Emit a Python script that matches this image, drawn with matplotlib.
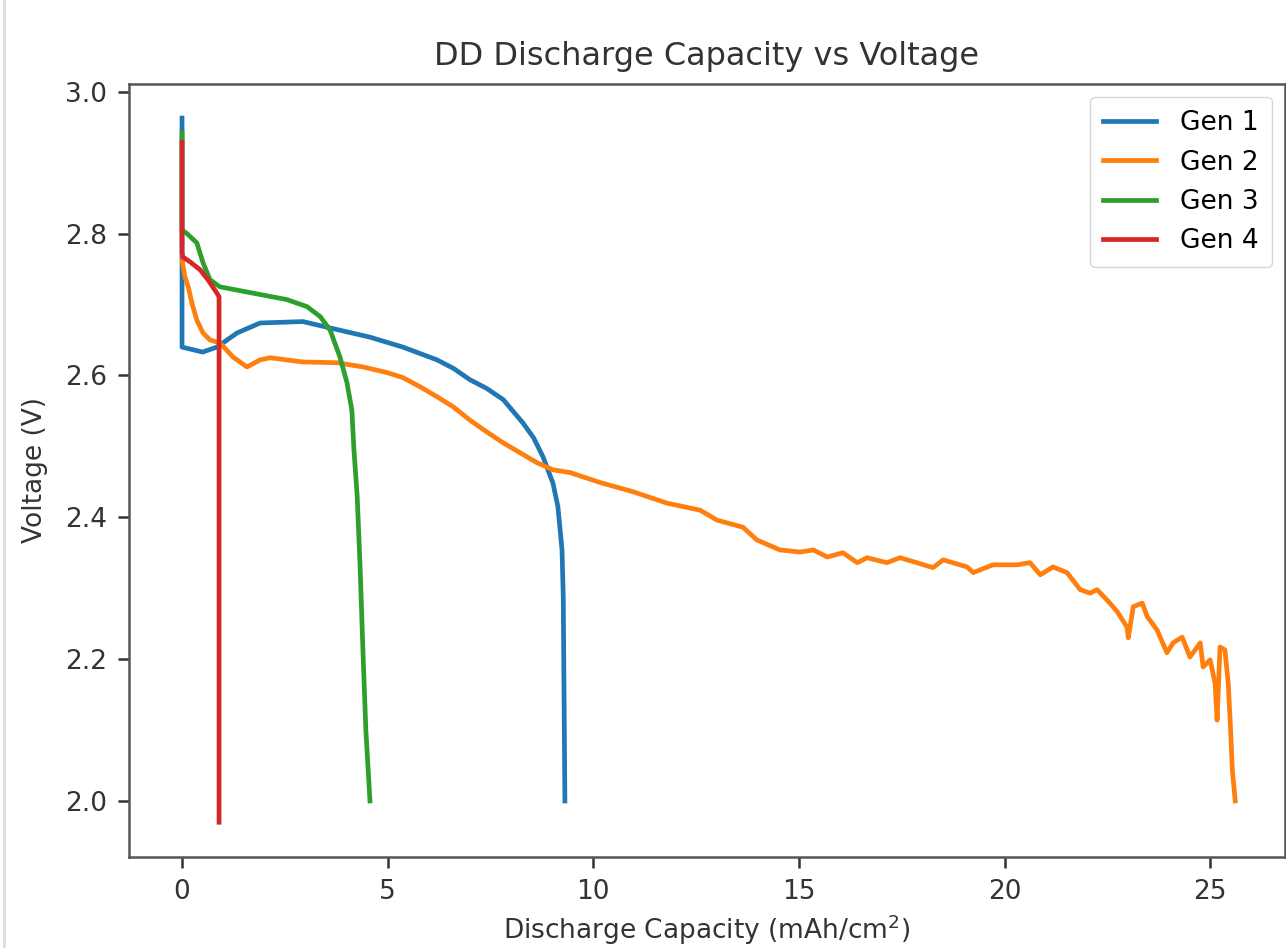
import numpy as np
import matplotlib
matplotlib.use('Agg')
import matplotlib.pyplot as plt
from matplotlib.lines import Line2D

# 放电容量 (mAh/cm^2) 与电压 (V)
gen1_cap = [0, 0, 0.5, 0.85, 1.34, 1.9, 2.94, 3.6, 4.57, 5.37, 6.2, 6.6, 7.0,
            7.4, 7.81, 8.29, 8.55, 8.78, 9.02, 9.14, 9.24, 9.27, 9.31]
gen1_v = [2.963, 2.640, 2.633, 2.640, 2.660, 2.674, 2.676, 2.667, 2.654, 2.640,
          2.622, 2.610, 2.594, 2.582, 2.566, 2.533, 2.512, 2.485, 2.448, 2.415,
          2.354, 2.288, 2.0]

gen2_cap = [0, 0.07, 0.15, 0.24, 0.36, 0.51, 0.68, 0.92, 1.24, 1.58, 1.90, 2.14,
            2.94, 3.77, 4.40, 4.99, 5.37, 5.79, 6.20, 6.59, 7.00, 7.42, 7.81,
            8.22, 8.63, 9.02, 9.44, 10.17, 10.97, 11.79, 12.60, 13.01, 13.64,
            13.98, 14.54, 15.03, 15.35, 15.69, 16.07, 16.42, 16.66, 17.14,
            17.46, 17.87, 18.26, 18.51, 19.09, 19.24, 19.72, 20.31, 20.62,
            20.87, 21.18, 21.52, 21.84, 22.08, 22.25, 22.50, 22.74, 22.98,
            23.01, 23.13, 23.35, 23.47, 23.71, 23.95, 24.10, 24.32, 24.51,
            24.76, 24.83, 25.00, 25.12, 25.17, 25.24, 25.36, 25.44, 25.49,
            25.54, 25.61]
gen2_v = [2.763, 2.739, 2.725, 2.702, 2.678, 2.660, 2.650, 2.646, 2.626, 2.612,
          2.622, 2.625, 2.619, 2.618, 2.612, 2.604, 2.597, 2.584, 2.570, 2.556,
          2.537, 2.520, 2.505, 2.491, 2.477, 2.467, 2.463, 2.449, 2.436, 2.420,
          2.410, 2.396, 2.386, 2.368, 2.354, 2.351, 2.354, 2.344, 2.350, 2.336,
          2.343, 2.336, 2.343, 2.336, 2.329, 2.340, 2.330, 2.322, 2.333, 2.333,
          2.336, 2.319, 2.330, 2.322, 2.298, 2.293, 2.298, 2.283, 2.267, 2.245,
          2.230, 2.274, 2.279, 2.260, 2.241, 2.209, 2.223, 2.231, 2.203, 2.223,
          2.189, 2.199, 2.166, 2.114, 2.217, 2.213, 2.166, 2.110, 2.044, 2.0]

gen3_cap = [0, 0, 0.12, 0.36, 0.51, 0.68, 0.92, 1.73, 2.55, 3.04, 3.36, 3.60,
            3.84, 4.01, 4.13, 4.18, 4.26, 4.33, 4.40, 4.47, 4.57]
gen3_v = [2.942, 2.805, 2.800, 2.787, 2.759, 2.735, 2.725, 2.716, 2.707, 2.697,
          2.683, 2.664, 2.626, 2.590, 2.551, 2.495, 2.429, 2.330, 2.210, 2.100, 2.0]

gen4_cap = [0, 0, 0.02, 0.20, 0.44, 0.63, 0.85, 0.90, 0.90]
gen4_v = [2.929, 2.773, 2.767, 2.760, 2.749, 2.735, 2.716, 2.711, 1.970]

labels = ['Gen 1', 'Gen 2', 'Gen 3', 'Gen 4']

fig = plt.figure(figsize=(12.86, 9.48), dpi=100)
ax = fig.add_axes([0.1003, 0.0960, 0.8989, 0.8154])

lw = 3.4
ax.plot(gen1_cap, gen1_v, lw=lw, label=labels[0])
ax.plot(gen2_cap, gen2_v, lw=lw, label=labels[1])
ax.plot(gen3_cap, gen3_v, lw=lw, label=labels[2])
ax.plot(gen4_cap, gen4_v, lw=lw, label=labels[3])

ax.set_xlim(-1.29, 26.82)
ax.set_ylim(1.921, 3.011)
ax.set_xticks([0, 5, 10, 15, 20, 25])
ax.set_yticks([2.0, 2.2, 2.4, 2.6, 2.8, 3.0])

for s in ax.spines.values():
    s.set_linewidth(1.8)
    s.set_color('#555555')
ax.tick_params(labelsize=19, width=1.8, length=8, colors='#333333', pad=8)

ax.set_title('DD Discharge Capacity vs Voltage', fontsize=23, color='#333333', pad=14)
ax.set_xlabel('Discharge Capacity (mAh/cm$^2$)', fontsize=19, color='#333333', labelpad=5)
ax.set_ylabel('Voltage (V)', fontsize=19, color='#333333', labelpad=12)

ax.legend(loc='upper right', fontsize=19, handlelength=2.0, framealpha=0.8,
          borderpad=0.5, labelspacing=0.5, handletextpad=0.9)

# jupyter 输出框的左边线
fig.add_artist(Line2D([0.003, 0.003], [0, 1], transform=fig.transFigure,
                      color='#dddddd', lw=2))

fig.savefig('out.png', dpi=100)
